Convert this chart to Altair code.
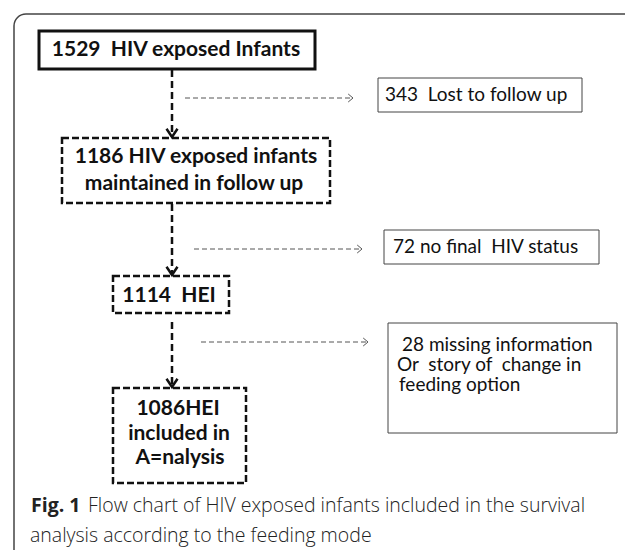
import altair as alt
import pandas as pd

NB = "\u00a0"

# ---- content ----
box_names = ["b1", "lost", "b2", "nofinal", "b3", "missing", "b4"]
box_x1 = [39, 378, 62, 384, 113, 388, 113]
box_x2 = [315, 582, 330, 599, 229, 617, 246]
box_y1 = [31, 78, 138, 230, 276, 323, 388]
box_y2 = [69, 112, 203, 264, 313, 433, 483]
box_style = ["thick", "thin", "dashed", "thin", "dashed", "thin", "dashed"]

bold_labels = ["1529" + NB + NB + "HIV exposed Infants", "1186 HIV exposed infants", "maintained in follow up",
               "1114" + NB + NB + "HEI", "1086HEI", "included in", "A=nalysis"]
bold_x = [176, 196, 194, 169, 178, 179, 180]
bold_y = [50, 157, 184, 296, 409, 434, 458]

side_labels = ["343" + NB + NB + "Lost to follow up", "72 no final" + NB + NB + "HIV status",
               "28 missing information", "Or" + NB + NB + "story of" + NB + NB + "change in", "feeding option"]
side_x = [385, 393, 402, 397, 399]
side_y = [95, 247, 345, 365, 385]

# vertical connectors (x, y start, y end)
vc_x = [172, 172, 172]
vc_y1 = [70, 204, 322]
vc_y2 = [137, 275, 387]
# horizontal exclusion arrows
hc_y = [98, 249, 342]
hc_x1 = [185, 194, 201]
hc_x2 = [353, 362, 368]

caption_bold = "Fig. 1"
caption_line1 = "Flow chart of HIV exposed infants included in the survival"
caption_line2 = "analysis according to the feeding mode"

W, H = 617, 542
xs = alt.Scale(domain=[8, 8 + W], nice=False, zero=False)
ys = alt.Scale(domain=[8, 8 + H], nice=False, zero=False, reverse=True)
X = lambda f: alt.X(f, type="quantitative", scale=xs, axis=None)
Y = lambda f: alt.Y(f, type="quantitative", scale=ys, axis=None)

boxes = pd.DataFrame(dict(name=box_names, x1=box_x1, x2=box_x2, y1=box_y1, y2=box_y2, style=box_style))

outer = alt.Chart(pd.DataFrame(dict(x1=[14], x2=[720], y1=[14], y2=[640]))).mark_rect(
    fillOpacity=0, stroke="#444", strokeWidth=1.5, cornerRadius=12, clip=True
).encode(x=X("x1"), x2="x2", y=Y("y1"), y2="y2")

thick = alt.Chart(boxes[boxes["style"] == "thick"]).mark_rect(
    fillOpacity=0, stroke="#111", strokeWidth=3
).encode(x=X("x1"), x2="x2", y=Y("y1"), y2="y2")

thin = alt.Chart(boxes[boxes["style"] == "thin"]).mark_rect(
    fillOpacity=0, stroke="#444", strokeWidth=1
).encode(x=X("x1"), x2="x2", y=Y("y1"), y2="y2")

dashed = alt.Chart(boxes[boxes["style"] == "dashed"]).mark_rect(
    fillOpacity=0, stroke="#111", strokeWidth=2.5, strokeDash=[7, 3]
).encode(x=X("x1"), x2="x2", y=Y("y1"), y2="y2")

vdf = pd.DataFrame(dict(x=vc_x, y1=vc_y1, y2=vc_y2))
vlines = alt.Chart(vdf).mark_rule(stroke="#111", strokeWidth=2.5, strokeDash=[7, 4]).encode(
    x=X("x"), y=Y("y1"), y2="y2")
vheads = alt.Chart(vdf).mark_point(
    shape="M -1 -1.5 L 0 0 L 1 -1.5", filled=False, stroke="#111", strokeWidth=2.5, size=121, opacity=1
).encode(x=X("x"), y=Y("y2"))

hdf = pd.DataFrame(dict(y=hc_y, x1=hc_x1, x2=hc_x2))
hlines = alt.Chart(hdf).mark_rule(stroke="#555", strokeWidth=1, strokeDash=[5, 3]).encode(
    y=Y("y"), x=X("x1"), x2="x2")
hheads = alt.Chart(hdf).mark_point(
    shape="M -1.2 -1 L 0 0 L -1.2 1", filled=False, stroke="#555", strokeWidth=1, size=64, opacity=1
).encode(x=X("x2"), y=Y("y"))

btext = alt.Chart(pd.DataFrame(dict(t=bold_labels, x=bold_x, y=bold_y))).mark_text(
    font="Lato", fontSize=21, fontWeight="bold", color="#111", align="center", baseline="middle"
).encode(x=X("x"), y=Y("y"), text="t:N")

stext = alt.Chart(pd.DataFrame(dict(t=side_labels, x=side_x, y=side_y))).mark_text(
    font="Lato", fontSize=19, color="#111", align="left", baseline="middle"
).encode(x=X("x"), y=Y("y"), text="t:N")

cap1 = alt.Chart(pd.DataFrame(dict(t=[caption_bold], x=[31], y=[506]))).mark_text(
    font="Open Sans", fontSize=19.5, fontWeight="bold", color="#222", align="left", baseline="middle"
).encode(x=X("x"), y=Y("y"), text="t:N")
cap2 = alt.Chart(pd.DataFrame(dict(t=[caption_line1, caption_line2], x=[88, 30], y=[506, 536]))).mark_text(
    font="Open Sans", fontSize=19.5, fontWeight=300, color="#222", align="left", baseline="middle"
).encode(x=X("x"), y=Y("y"), text="t:N")

chart = alt.layer(outer, thick, thin, dashed, vlines, vheads, hlines, hheads, btext, stext, cap1, cap2).properties(
    width=W, height=H, padding=0, autosize="none"
).configure_view(stroke=None)

chart.save("out.html", embed_options={"renderer": "svg", "actions": False})
